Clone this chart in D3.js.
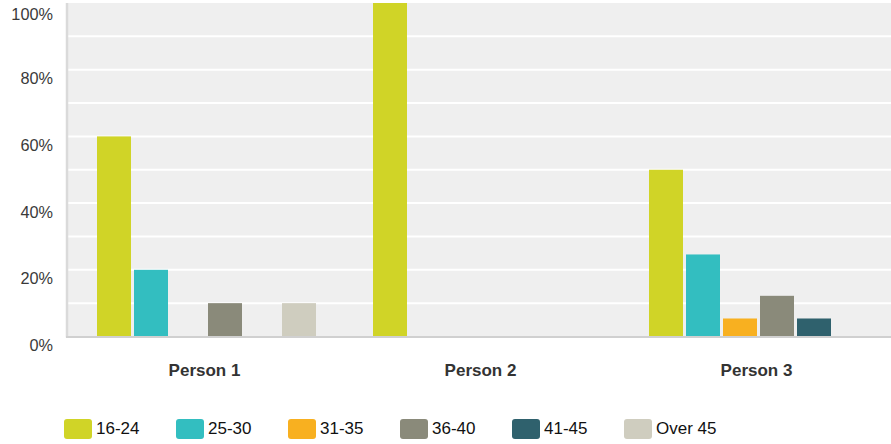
<!DOCTYPE html>
<html>
<head>
<meta charset="utf-8">
<script src="https://cdn.jsdelivr.net/npm/d3@7"></script>
<style>
  html, body { margin: 0; padding: 0; background: #fff; }
  svg { display: block; font-family: "Liberation Sans", Arial, sans-serif; }
</style>
</head>
<body>
<svg id="chart" width="891" height="444"></svg>
<script>
const categories = ["Person 1", "Person 2", "Person 3"];
const seriesNames = ["16-24", "25-30", "31-35", "36-40", "41-45", "Over 45"];
const seriesColors = ["#d0d427", "#33bec0", "#f8b020", "#8a8a7a", "#2f616d", "#cfcdbf"];
const values16_24 = [60, 100, 50];
const values25_30 = [20, 0, 24.6];
const values31_35 = [0, 0, 5.4];
const values36_40 = [10, 0, 12.2];
const values41_45 = [0, 0, 5.4];
const valuesOver45 = [10, 0, 0];
const yTicks = [0, 20, 40, 60, 80, 100];
const gridTicks = [10, 20, 30, 40, 50, 60, 70, 80, 90];

const seriesValues = [values16_24, values25_30, values31_35, values36_40, values41_45, valuesOver45];

const svg = d3.select("#chart");
const plotLeft = 67, plotRight = 891, plotTop = 3, plotBottom = 336.5;

const x0 = d3.scaleBand().domain(categories).range([plotLeft, 895]).padding(0);
const x1 = d3.scaleBand().domain(seriesNames).range([30, 249]).paddingInner(3 / 37).paddingOuter(0);
const y = d3.scaleLinear().domain([0, 100]).range([plotBottom, plotTop]);

// background
svg.append("rect")
  .attr("x", plotLeft).attr("y", plotTop)
  .attr("width", plotRight - plotLeft).attr("height", plotBottom - plotTop)
  .attr("fill", "#efefef");

// gridlines
svg.append("g").selectAll("line").data(gridTicks).join("line")
  .attr("x1", plotLeft).attr("x2", plotRight)
  .attr("y1", d => y(d)).attr("y2", d => y(d))
  .attr("stroke", "#ffffff").attr("stroke-width", 2);

// bars
const groups = svg.append("g").selectAll("g").data(categories).join("g")
  .attr("transform", d => `translate(${x0(d)},0)`);
groups.selectAll("rect")
  .data((c, ci) => seriesNames.map((s, si) => ({ s, si, v: seriesValues[si][ci] })))
  .join("rect")
  .attr("x", d => x1(d.s))
  .attr("width", x1.bandwidth())
  .attr("y", d => y(d.v))
  .attr("height", d => y(0) - y(d.v))
  .attr("fill", d => seriesColors[d.si]);

// axis lines
svg.append("line")
  .attr("x1", 67).attr("x2", 67).attr("y1", plotTop).attr("y2", plotBottom + 1)
  .attr("stroke", "#dadada").attr("stroke-width", 2.5);
svg.append("line")
  .attr("x1", 66).attr("x2", plotRight).attr("y1", plotBottom + 0.5).attr("y2", plotBottom + 0.5)
  .attr("stroke", "#d0d0d0").attr("stroke-width", 2);

// y labels
const yAxis = d3.axisLeft(y).tickValues(yTicks).tickFormat(d => d + "%").tickSize(0).tickPadding(0);
const yg = svg.append("g").attr("transform", "translate(53,0)").call(yAxis);
yg.select(".domain").remove();
yg.selectAll("text")
  .attr("font-size", 16.3).attr("fill", "#3a3a3a")
  .attr("font-family", "'Liberation Sans', Arial, sans-serif")
  .attr("dy", null)
  .attr("y", d => Math.max(14, 16 - (y(d) > 10 ? 2 : 0)));

// x labels
const xAxis = d3.axisBottom(x0).tickSize(0).tickPadding(0);
const xg = svg.append("g").attr("transform", `translate(0,${plotBottom})`).call(xAxis);
xg.select(".domain").remove();
xg.selectAll(".tick").attr("transform", d => `translate(${x0(d) + 30 + 219 / 2 - 2},0)`);
xg.selectAll("text")
  .attr("font-size", 17).attr("font-weight", "bold").attr("fill", "#333")
  .attr("font-family", "'Liberation Sans', Arial, sans-serif")
  .attr("dy", null).attr("y", 39.5);

// legend
const legend = svg.append("g").selectAll("g").data(seriesNames).join("g")
  .attr("transform", (d, i) => `translate(${64 + i * 112},419)`);
legend.append("rect")
  .attr("width", 28).attr("height", 20).attr("rx", 3).attr("ry", 3)
  .attr("fill", (d, i) => seriesColors[i]);
legend.append("text")
  .attr("x", 32).attr("y", 14.5)
  .attr("font-size", 17).attr("fill", "#111")
  .text(d => d);
</script>
</body>
</html>
